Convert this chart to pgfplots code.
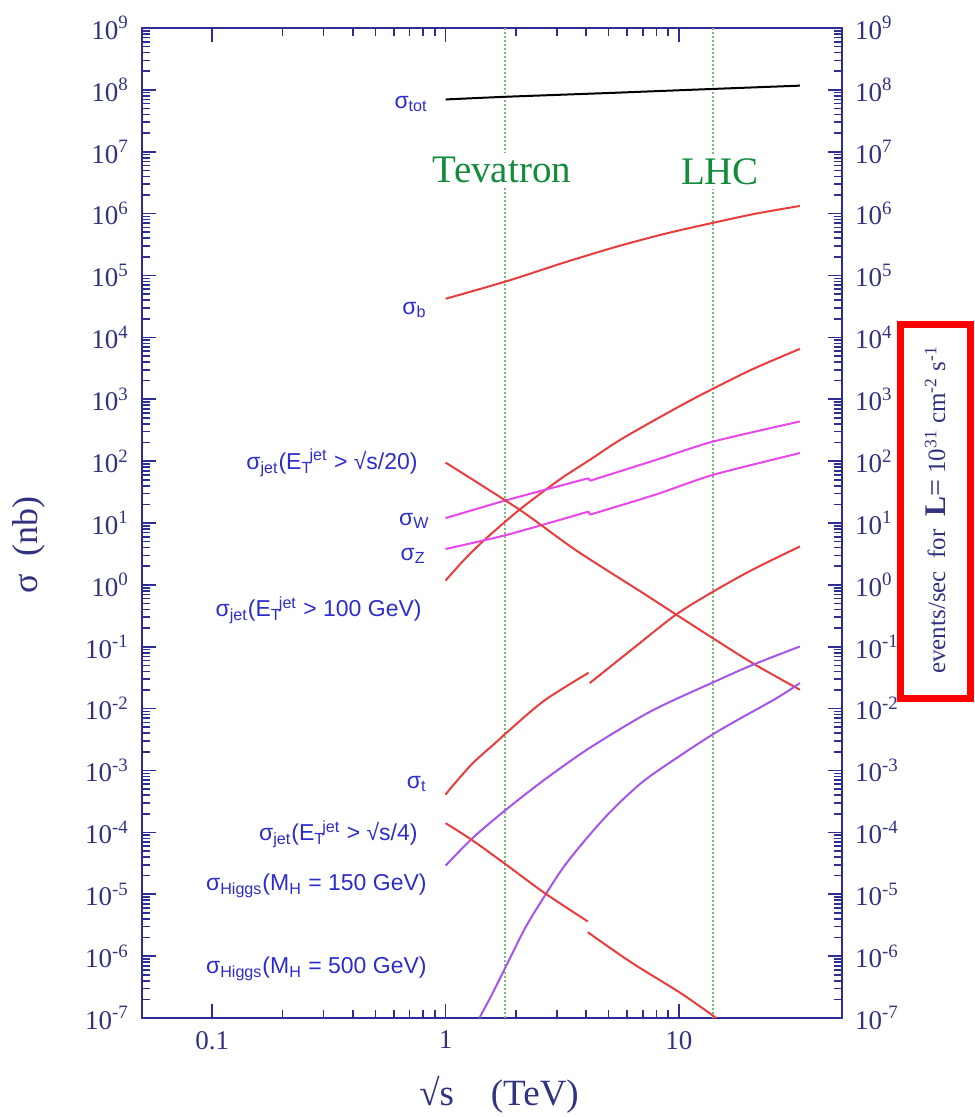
\documentclass[border=0pt]{standalone}
\usepackage{pgfplots}
\pgfplotsset{compat=1.18}
\usepackage{fontspec}
\setmainfont{Liberation Serif}
\newfontfamily\sansf{Liberation Sans}
\definecolor{axnavy}{RGB}{45,45,150}
\definecolor{ticknavy}{RGB}{50,50,130}
\definecolor{lblue}{RGB}{45,45,205}
\definecolor{cred}{RGB}{235,60,60}
\definecolor{cmag}{RGB}{235,70,235}
\definecolor{cpur}{RGB}{165,85,235}
\definecolor{cgreen}{RGB}{20,140,60}
\definecolor{dgreen}{RGB}{120,190,120}
\newcommand{\tl}[1]{10\textsuperscript{#1}}
\newcommand{\lab}[1]{{\sansf\fontsize{11.5}{12}\selectfont #1}}
\newcommand{\sig}{σ}
\newcommand{\ETj}{E\textsubscript{T}\hspace{-0.12em}\textsuperscript{jet}}
\begin{document}
\begin{tikzpicture}
\useasboundingbox (-71pt,-49.5pt) rectangle (416pt,509pt);
\begin{axis}[
  at={(0pt,0pt)}, anchor=south west,
  scale only axis, width=350pt, height=495pt,
  xmode=log, ymode=log,
  xmin=0.05, xmax=50, ymin=1e-7, ymax=1e9,
  ytickten={-7,...,9},
  yticklabels={\tl{-7},\tl{-6},\tl{-5},\tl{-4},\tl{-3},\tl{-2},\tl{-1},\tl{0},\tl{1},\tl{2},\tl{3},\tl{4},\tl{5},\tl{6},\tl{7},\tl{8},\tl{9}},
  yticklabel style={font=\fontsize{13.5}{14}\selectfont, text=ticknavy, xshift=-3pt},
  axis line style={axnavy, line width=1.3pt},
  every tick/.style={axnavy, line width=0.8pt},
  major tick length=7pt, minor tick length=4pt,
  xtick={0.1,1,10}, xticklabels={0.1,1,10},
  xticklabel style={font=\fontsize{13.5}{14}\selectfont, text=ticknavy, yshift=-3pt},
  no marks, clip=true,
  every axis plot/.append style={line width=1pt},
]
\addplot[dgreen, densely dotted, line width=0.9pt] coordinates {(1.8,1e-7) (1.8,1e9)};
\addplot[dgreen, densely dotted, line width=0.9pt] coordinates {(14,1e-7) (14,1e9)};
% sigma_tot
\addplot[black, smooth, tension=0.4] coordinates {(1,7.0e7) (1.85,7.76e7) (5,8.9e7) (14,1.035e8) (33,1.17e8)};
% sigma_b
\addplot[cred, smooth, tension=0.5] coordinates {(1,4.2e4) (1.85,8.2e4) (3.16,1.58e5) (5.2,2.8e5) (8.51,4.62e5) (14,7.1e5) (21.4,1.0e6) (33,1.33e6)};
% sigma_jet ET>100 GeV
\addplot[cred, smooth, tension=0.5] coordinates {(1,1.175) (1.183,2.39) (1.442,5.01) (2.07,16.3) (3.076,50.1) (4.15,104.7) (5.75,234) (10.1,776) (14,1479) (20.8,3090) (33,6516)};
% sigma_W
\addplot[cmag, smooth, tension=0.4] coordinates {(1,12) (1.85,23.7) (4.1,53)};
\addplot[cmag] coordinates {(4.1,53) (4.15,48)};
\addplot[cmag, smooth, tension=0.4] coordinates {(4.15,48) (8,105) (14,207) (33,437)};
% sigma_Z
\addplot[cmag, smooth, tension=0.4] coordinates {(1,3.8) (1.85,6.5) (4.1,15.3)};
\addplot[cmag] coordinates {(4.1,15.3) (4.15,13.6)};
\addplot[cmag, smooth, tension=0.4] coordinates {(4.15,13.6) (8,29) (14,60) (33,135)};
% sigma_jet ET > sqrt(s)/20
\addplot[cred, smooth, tension=0.5] coordinates {(1,94.8) (2.08,16.3) (3.62,3.63) (7.0,0.741) (12.68,0.174) (20.8,0.0537) (33,0.0202)};
% sigma_t
\addplot[cred, smooth, tension=0.5] coordinates {(1,4.07e-4) (1.07,5.6e-4) (1.31,1.32e-3) (1.64,2.82e-3) (1.85,4.27e-3) (2.65,1.35e-2) (4.1,3.8e-2)};
\addplot[cred, smooth, tension=0.5] coordinates {(4.15,2.59e-2) (6.5,0.1) (9.7,0.329) (14,0.776) (20.8,1.78) (33,4.17)};
% sigma_Higgs 150
\addplot[cpur, smooth, tension=0.5] coordinates {(1,2.9e-5) (1.306,8.1e-5) (1.816,2.33e-4) (2.655,7.1e-4) (4.14,2.31e-3) (7.6,9.1e-3) (14.3,2.75e-2) (20.8,5.13e-2) (33,0.101)};
% sigma_Higgs 500
\addplot[cpur, smooth, tension=0.5] coordinates {(1.396,1e-7) (1.592,2.54e-7) (1.875,8.77e-7) (2.213,3.03e-6) (2.655,9.3e-6) (3.177,2.63e-5) (3.873,6.76e-5) (4.875,1.82e-4) (6.138,4.27e-4) (7.727,8.7e-4) (14.29,4.04e-3) (26,1.45e-2) (33,2.59e-2)};
% sigma_jet ET > sqrt(s)/4
\addplot[cred, smooth, tension=0.5] coordinates {(1,1.41e-4) (1.306,7.4e-5) (1.816,3.02e-5) (2.655,1.05e-5) (4.07,3.63e-6)};
\addplot[cred, smooth, tension=0.5] coordinates {(4.07,2.43e-6) (6.24,7.94e-7) (10.2,2.51e-7) (14.45,1e-7)};
\end{axis}
\begin{axis}[
  at={(0pt,0pt)}, anchor=south west,
  scale only axis, width=350pt, height=495pt,
  xmode=log, ymode=log,
  xmin=0.05, xmax=50, ymin=1e-7, ymax=1e9,
  ytickten={-7,...,9},
  yticklabels={\tl{-7},\tl{-6},\tl{-5},\tl{-4},\tl{-3},\tl{-2},\tl{-1},\tl{0},\tl{1},\tl{2},\tl{3},\tl{4},\tl{5},\tl{6},\tl{7},\tl{8},\tl{9}},
  yticklabel style={font=\fontsize{13.5}{14}\selectfont, text=ticknavy, xshift=3pt},
  yticklabel pos=right,
  xtick=\empty, xticklabels={},
  axis line style={draw=none},
  major tick length=0pt, minor tick length=0pt,
]
\addplot[draw=none] coordinates {(1,1)};
\end{axis}
% labels
\node[anchor=east, text=lblue, inner sep=0pt] at (143pt,457pt) {\lab{\sig\textsubscript{tot}}};
\node[anchor=east, text=lblue, inner sep=0pt] at (142.5pt,354pt) {\lab{\sig\textsubscript{b}}};
\node[anchor=east, text=lblue, inner sep=0pt] at (138pt,277.5pt) {\lab{\sig\textsubscript{jet}(\ETj{} > √s/20)}};
\node[anchor=east, text=lblue, inner sep=0pt] at (144pt,248.5pt) {\lab{\sig\textsubscript{W}}};
\node[anchor=east, text=lblue, inner sep=0pt] at (142pt,231pt) {\lab{\sig\textsubscript{Z}}};
\node[anchor=east, text=lblue, inner sep=0pt] at (140pt,204pt) {\lab{\sig\textsubscript{jet}(\ETj{} > 100 GeV)}};
\node[anchor=east, text=lblue, inner sep=0pt] at (142.5pt,117pt) {\lab{\sig\textsubscript{t}}};
\node[anchor=east, text=lblue, inner sep=0pt] at (138pt,92pt) {\lab{\sig\textsubscript{jet}(\ETj{} > √s/4)}};
\node[anchor=east, text=lblue, inner sep=0pt] at (142.5pt,66pt) {\lab{\sig\textsubscript{Higgs}(M\textsubscript{H} = 150 GeV)}};
\node[anchor=east, text=lblue, inner sep=0pt] at (142.5pt,24.5pt) {\lab{\sig\textsubscript{Higgs}(M\textsubscript{H} = 500 GeV)}};
\node[text=cgreen, fill=white, inner sep=2pt, font=\fontsize{19.5}{20}\selectfont] at (180pt,424pt) {Tevatron};
\node[text=cgreen, fill=white, inner sep=2pt, font=\fontsize{19.5}{20}\selectfont] at (289pt,423pt) {LHC};
\node[text=ticknavy, font=\fontsize{18.5}{19}\selectfont] at (178.5pt,-38.5pt) {√s\quad(TeV)};
\node[text=ticknavy, rotate=90, font=\fontsize{18}{19}\selectfont] at (-56.5pt,236.5pt) {σ\ \ (nb)};
\draw[red, line width=3.5pt] (379.25pt,159.75pt) rectangle (414.25pt,346.75pt);
\node[text=ticknavy, rotate=90, font=\fontsize{12.5}{13}\selectfont] at (396.5pt,254pt) {events/sec\ \ for\ \ {\fontsize{15}{15}\selectfont\textbf{L}=}\ 10\textsuperscript{31}\ cm\textsuperscript{-2}\ s\textsuperscript{-1}};
\end{tikzpicture}
\end{document}
